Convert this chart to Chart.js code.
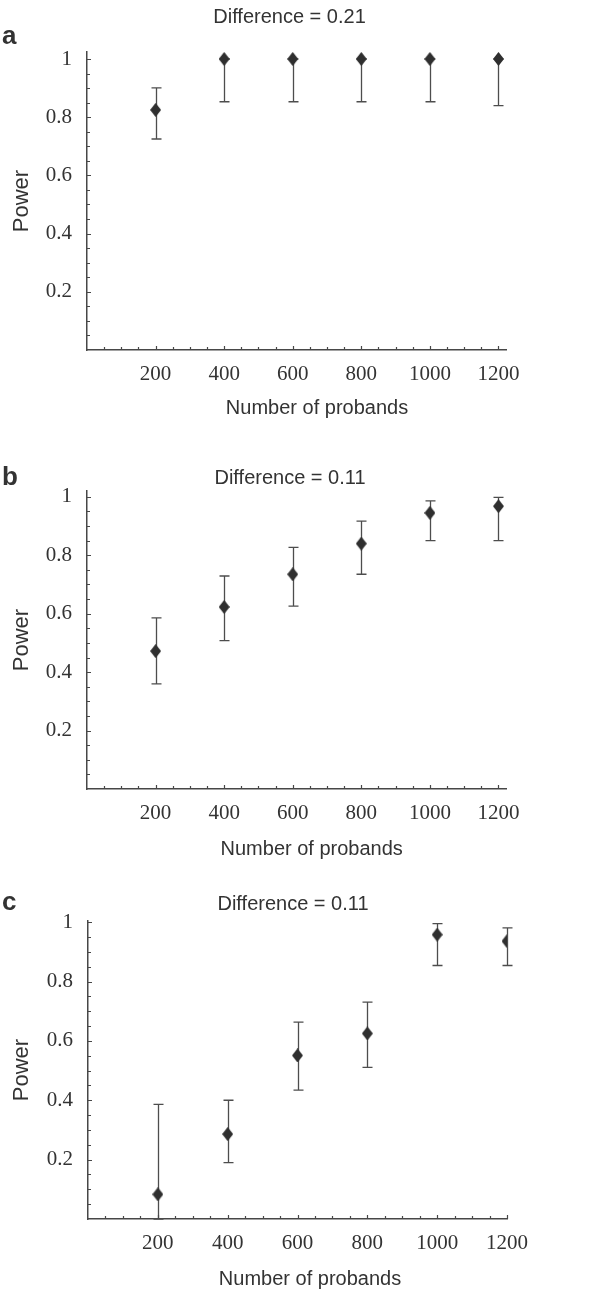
<!DOCTYPE html>
<html lang="en">
<head>
<meta charset="UTF-8">
<title>Power by number of probands</title>
<script src="https://cdn.jsdelivr.net/npm/chart.js"></script>
<style>
  body { margin: 0; background: #fff; }
  #page { position: relative; width: 600px; height: 1292px; }
  canvas { position: absolute; left: 0; }
</style>
</head>
<body>
<div id="page">
  <canvas id="chartA" width="600" height="428" style="top:0px"></canvas>
  <canvas id="chartB" width="600" height="432" style="top:428px"></canvas>
  <canvas id="chartC" width="600" height="432" style="top:860px"></canvas>
</div>
<script>
// number of probands (x categories)
const probands = [200, 400, 600, 800, 1000, 1200];

// panel a, difference = 0.21
const powerA = [0.825, 1.0, 1.0, 1.0, 1.0, 1.0];
const lowA   = [0.725, 0.853, 0.853, 0.853, 0.853, 0.84];
const highA  = [0.901, 1.0, 1.0, 1.0, 1.0, 1.0];

// panel b, difference = 0.11
const powerB = [0.472, 0.623, 0.735, 0.84, 0.945, 0.968];
const lowB   = [0.36, 0.508, 0.626, 0.735, 0.85, 0.85];
const highB  = [0.586, 0.729, 0.827, 0.917, 0.986, 0.998];

// panel c, difference = 0.11
const powerC = [0.083, 0.286, 0.551, 0.625, 0.958, 0.936];
const lowC   = [0.0, 0.19, 0.434, 0.511, 0.854, 0.854];
const highC  = [0.386, 0.40, 0.663, 0.731, 0.995, 0.981];

const titles = ['Difference = 0.21', 'Difference = 0.11', 'Difference = 0.11'];
const letters = ['a', 'b', 'c'];
const xTickValues = [200, 400, 600, 800, 1000, 1200];
const xTickLabels = ['200', '400', '600', '800', '1000', '1200'];
const yTickValues = [0.2, 0.4, 0.6, 0.8, 1.0];
const yTickLabels = ['0.2', '0.4', '0.6', '0.8', '1'];

const SANS = '"Liberation Sans", Arial, sans-serif';
const SERIF = '"Liberation Serif", "Times New Roman", serif';
const INK = '#333333';
const AXIS = '#474747';

// page positions of each panel (absolute px in the 600x1292 page)
const panels = [
  { id: 'chartA', top: 0,   h: 428, area: { l: 87, t: 52,  r: 506, b: 350 },  xMax: 1222, yMax: 1.024,
    power: powerA, low: lowA, high: highA, titleAt: [289.5, 22.5], letterY: 44,  xTitleAt: [317, 414] },
  { id: 'chartB', top: 428, h: 432, area: { l: 87, t: 491, r: 506, b: 789 },  xMax: 1222, yMax: 1.02,
    power: powerB, low: lowB, high: highB, titleAt: [290, 484],    letterY: 485, xTitleAt: [311.7, 855] },
  { id: 'chartC', top: 860, h: 432, area: { l: 88, t: 921, r: 507, b: 1219 }, xMax: 1200, yMax: 1.004,
    power: powerC, low: lowC, high: highC, titleAt: [293, 910],    letterY: 910, xTitleAt: [310, 1285] }
];

function diamond(w, h, color) {
  const c = document.createElement('canvas');
  c.width = w; c.height = h;
  const g = c.getContext('2d');
  g.fillStyle = color;
  g.beginPath();
  g.moveTo(w / 2, 0); g.lineTo(w, h / 2); g.lineTo(w / 2, h); g.lineTo(0, h / 2);
  g.closePath(); g.fill();
  return c;
}
const marker = diamond(11, 14, '#2f2f2f');

function labelFor(values, labels, v) {
  const i = values.findIndex(t => Math.abs(t - v) < 1e-6);
  return i < 0 ? '' : labels[i];
}

function panelPlugin(p, idx) {
  return {
    id: 'panelExtras',
    beforeDatasetsDraw(chart) {
      // error bars
      const { ctx, scales: { x, y } } = chart;
      ctx.save();
      ctx.strokeStyle = '#4d4d4d';
      ctx.lineWidth = 1.3;
      p.low.forEach((lo, i) => {
        const px = Math.round(x.getPixelForValue(probands[i])) + 0.5;
        const y1 = y.getPixelForValue(lo);
        const y2 = y.getPixelForValue(p.high[i]);
        ctx.beginPath();
        ctx.moveTo(px, y1); ctx.lineTo(px, y2);
        ctx.moveTo(px - 5, y1); ctx.lineTo(px + 5, y1);
        ctx.moveTo(px - 5, y2); ctx.lineTo(px + 5, y2);
        ctx.stroke();
      });
      ctx.restore();
    },
    afterDraw(chart) {
      const { ctx, chartArea: a, scales: { x, y } } = chart;
      ctx.save();
      // inward tick marks
      ctx.strokeStyle = AXIS;
      ctx.lineWidth = 1.2;
      ctx.beginPath();
      x.ticks.forEach(t => {
        if (t.value <= 0) return;
        const px = Math.round(x.getPixelForValue(t.value)) + 0.5;
        const len = t.value % 200 === 0 ? 4 : 3;
        ctx.moveTo(px, a.bottom); ctx.lineTo(px, a.bottom - len);
      });
      y.ticks.forEach(t => {
        if (t.value <= 0) return;
        const py = Math.round(y.getPixelForValue(t.value)) + 0.5;
        const major = Math.round(t.value * 100) % 20 === 0;
        ctx.moveTo(a.left, py); ctx.lineTo(a.left + (major ? 4 : 3), py);
      });
      ctx.stroke();
      // texts
      ctx.fillStyle = INK;
      ctx.textBaseline = 'alphabetic';
      ctx.textAlign = 'center';
      ctx.font = '20px ' + SANS;
      ctx.fillText(titles[idx], p.titleAt[0], p.titleAt[1] - p.top);
      ctx.fillText('Number of probands', p.xTitleAt[0], p.xTitleAt[1] - p.top);
      ctx.textAlign = 'left';
      ctx.font = 'bold 26px ' + SANS;
      ctx.fillText(letters[idx], 2, p.letterY - p.top);
      ctx.restore();
    }
  };
}

panels.forEach((p, idx) => {
  const ctx = document.getElementById(p.id).getContext('2d');
  new Chart(ctx, {
    type: 'scatter',
    data: {
      datasets: [{
        data: probands.map((n, i) => ({ x: n, y: p.power[i] })),
        pointStyle: marker,
        pointRadius: 7,
        showLine: false
      }]
    },
    options: {
      responsive: false,
      animation: false,
      devicePixelRatio: 1,
      layout: { padding: { left: 9, top: p.area.t - p.top, right: 600 - p.area.r, bottom: 0 } },
      plugins: { legend: { display: false }, tooltip: { enabled: false }, title: { display: false } },
      scales: {
        x: {
          type: 'linear', min: 0, max: p.xMax,
          border: { display: true, color: AXIS, width: 1.5 },
          grid: { display: false, drawTicks: false, tickLength: 0 },
          ticks: {
            stepSize: 50, autoSkip: false, maxRotation: 0, includeBounds: false,
            padding: 12, color: INK, font: { family: SERIF, size: 21 },
            callback: v => labelFor(xTickValues, xTickLabels, v)
          },
          afterFit: s => { s.height = p.h - (p.area.b - p.top); }
        },
        y: {
          min: 0, max: p.yMax,
          border: { display: true, color: AXIS, width: 1.5 },
          grid: { display: false, drawTicks: false, tickLength: 0 },
          ticks: {
            stepSize: 0.05, autoSkip: false, includeBounds: false,
            padding: 15, color: INK, font: { family: SERIF, size: 21 },
            callback: v => labelFor(yTickValues, yTickLabels, v)
          },
          title: { display: true, text: 'Power', color: INK, padding: 0, font: { family: SANS, size: 22 } },
          afterFit: s => { s.width = p.area.l - 9; }
        }
      }
    },
    plugins: [panelPlugin(p, idx)]
  });
});
</script>
</body>
</html>
